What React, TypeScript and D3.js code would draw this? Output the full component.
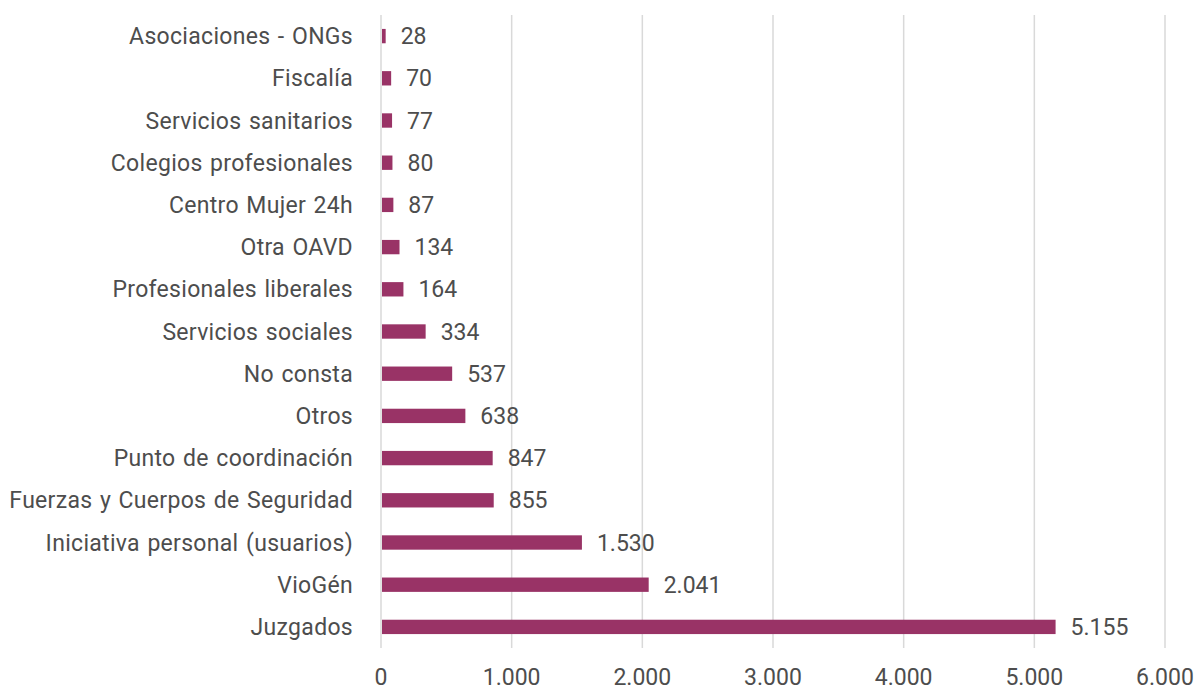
import * as d3 from 'd3'

const categories = [
  'Asociaciones - ONGs',
  'Fiscalía',
  'Servicios sanitarios',
  'Colegios profesionales',
  'Centro Mujer 24h',
  'Otra OAVD',
  'Profesionales liberales',
  'Servicios sociales',
  'No consta',
  'Otros',
  'Punto de coordinación',
  'Fuerzas y Cuerpos de Seguridad',
  'Iniciativa personal (usuarios)',
  'VioGén',
  'Juzgados',
]
const values = [28, 70, 77, 80, 87, 134, 164, 334, 537, 638, 847, 855, 1530, 2041, 5155]
const ticks = [0, 1000, 2000, 3000, 4000, 5000, 6000]

const width = 1195,
      height = 688,
      margin = { top: 15, left: 381 },
      plotW = 784,
      plotH = 633,
      barColor = '#993366',
      textColor = '#4d4d4d'

const fmt = (v: number) => d3.format(',')(v).replace(/,/g, '.')

export default function App() {
  const xScale = d3.scaleLinear().domain([0, 6000]).range([0, plotW])
  const yScale = d3.scaleBand().domain(categories).range([0, plotH]).paddingInner(0.66).paddingOuter(0.33)

  return (
    <svg width={width} height={height} style={{ position: 'absolute', left: 0, top: 0, fontFamily: 'Roboto, sans-serif' }}>
      <g transform={`translate(${margin.left}, ${margin.top})`}>
        {ticks.map(t => (
          <g key={t} transform={`translate(${xScale(t)}, 0)`}>
            <line y2={plotH} stroke='#d9d9d9' strokeWidth={1.5} />
            <text y={662} textAnchor='middle' dy='0.35em' fontSize={23} fill={textColor}>{fmt(t)}</text>
          </g>
        ))}
        {categories.map((c, i) => {
          const y = yScale(c) as number
          const cy = y + yScale.bandwidth() / 2
          return (
            <g key={c}>
              <rect x={xScale(0) + 1} y={y} width={xScale(values[i])} height={yScale.bandwidth()} fill={barColor} />
              <text x={-28} y={cy} dy='0.35em' textAnchor='end' fontSize={23} fill={textColor}
                style={{ letterSpacing: '0.3px', wordSpacing: '1.5px' }}>{c}</text>
              <text x={xScale(values[i]) + 16} y={cy} dy='0.35em' fontSize={23} fill={textColor}>{fmt(values[i])}</text>
            </g>
          )
        })}
      </g>
    </svg>
  )
}
